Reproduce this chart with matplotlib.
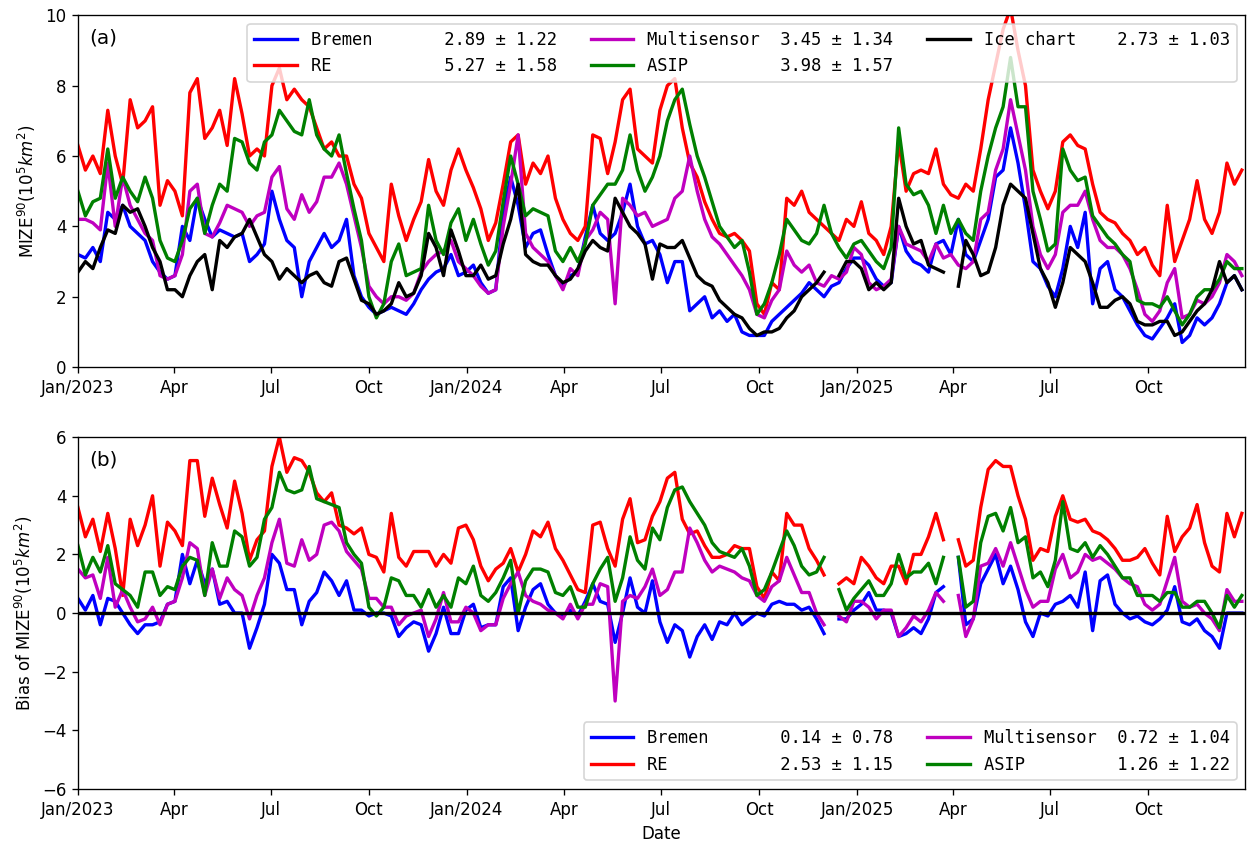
import numpy as np
import pandas as pd
import matplotlib
matplotlib.use("Agg")
import matplotlib.pyplot as plt
import matplotlib.dates as mdates
from matplotlib.ticker import FuncFormatter

# weekly samples (10^5 km^2), starting 2023-01-01
dates = pd.date_range("2023-01-01", periods=157, freq="7D")

bremen = [3.2, 3.1, 3.4, 3.0, 4.4, 4.2, 4.6, 4.0, 3.8, 3.6,
          3.0, 2.7, 2.5, 2.6, 4.0, 3.6, 4.8, 4.2, 3.7, 3.9,
          3.8, 3.7, 3.8, 3.0, 3.2, 3.5, 5.0, 4.2, 3.6, 3.4,
          2.0, 3.0, 3.4, 3.8, 3.4, 3.6, 4.2, 2.6, 2.0, 1.7,
          1.5, 1.6, 1.7, 1.6, 1.5, 1.8, 2.2, 2.5, 2.7, 2.8,
          3.2, 2.6, 2.7, 2.9, 2.4, 2.1, 2.2, 4.4, 5.4, 4.6,
          3.4, 3.8, 3.9, 3.2, 2.6, 2.3, 2.6, 2.7, 3.7, 4.6,
          3.8, 3.6, 3.8, 4.4, 5.2, 4.0, 3.5, 3.6, 3.2, 2.4,
          3.0, 3.0, 1.6, 1.8, 2.0, 1.4, 1.6, 1.3, 1.5, 1.0,
          0.9, 0.9, 0.9, 1.3, 1.5, 1.7, 1.9, 2.1, 2.4, 2.2,
          2.0, 2.3, 2.4, 2.8, 3.1, 3.1, 2.9, 2.5, 2.3, 2.4,
          4.0, 3.3, 3.0, 2.9, 2.7, 3.5, 3.6, 3.2, 4.2, 3.2,
          3.0, 3.6, 4.2, 5.4, 5.6, 6.8, 5.8, 4.5, 3.0, 2.8,
          2.3, 2.0, 2.8, 4.0, 3.4, 4.4, 1.8, 2.8, 3.0, 2.2,
          2.0, 1.6, 1.2, 0.9, 0.8, 1.1, 1.4, 1.8, 0.7, 0.9,
          1.4, 1.2, 1.4, 1.8, 2.4, 2.6, 2.2]

re_model = [6.3, 5.6, 6.0, 5.5, 7.3, 6.0, 5.2, 7.6, 6.8, 7.0,
            7.4, 4.6, 5.3, 5.0, 4.3, 7.8, 8.2, 6.5, 6.8, 7.3,
            6.3, 8.2, 7.2, 6.0, 6.2, 6.0, 8.0, 8.5, 7.6, 7.9,
            7.6, 7.4, 6.8, 6.2, 6.4, 6.0, 6.0, 5.2, 4.8, 3.8,
            3.4, 3.0, 5.2, 4.3, 3.6, 4.2, 4.7, 5.9, 5.0, 4.6,
            5.6, 6.2, 5.6, 5.1, 4.5, 3.6, 4.1, 5.2, 6.4, 6.6,
            5.2, 5.8, 5.5, 6.0, 4.8, 4.2, 3.8, 3.6, 4.0, 6.6,
            6.5, 5.5, 6.4, 7.6, 7.9, 6.2, 6.0, 5.8, 7.3, 8.0,
            8.2, 6.8, 5.8, 5.4, 4.7, 4.2, 3.8, 3.7, 3.8, 3.6,
            3.3, 1.8, 1.5, 2.4, 2.2, 4.8, 4.6, 5.0, 4.4, 4.2,
            4.0, 3.8, 3.6, 4.2, 4.0, 4.7, 3.8, 3.6, 3.2, 4.0,
            6.4, 5.0, 5.5, 5.6, 5.5, 6.2, 5.2, 4.9, 4.8, 5.2,
            5.0, 6.2, 7.6, 8.6, 9.6, 10.2, 9.0, 8.0, 5.6, 5.0,
            4.5, 5.0, 6.4, 6.6, 6.3, 6.2, 5.2, 4.4, 4.2, 4.1,
            3.8, 3.6, 3.2, 3.4, 2.9, 2.6, 4.6, 3.0, 3.6, 4.2,
            5.3, 4.2, 3.8, 4.4, 5.8, 5.2, 5.6]

multisensor = [4.2, 4.2, 4.1, 3.9, 5.8, 4.0, 5.4, 4.6, 4.2, 3.8,
               3.6, 2.6, 2.5, 2.6, 3.2, 5.0, 5.2, 3.8, 3.7, 4.1,
               4.6, 4.5, 4.4, 4.0, 4.3, 4.4, 5.4, 5.7, 4.5, 4.2,
               4.9, 4.4, 4.7, 5.4, 5.4, 5.8, 5.2, 4.3, 3.4, 2.3,
               2.0, 1.8, 2.0, 2.0, 1.9, 2.1, 2.7, 3.0, 3.2, 3.3,
               3.6, 3.0, 2.8, 2.6, 2.3, 2.1, 2.2, 4.0, 5.2, 6.6,
               3.8, 3.4, 3.2, 3.0, 2.6, 2.2, 2.8, 2.6, 3.6, 3.9,
               4.4, 4.2, 1.8, 4.8, 4.6, 4.3, 4.4, 4.0, 4.1, 4.2,
               4.8, 5.0, 6.0, 5.0, 4.2, 3.7, 3.5, 3.2, 2.9, 2.6,
               2.2, 1.5, 1.4, 1.9, 2.2, 3.3, 2.9, 2.7, 2.9, 2.4,
               2.3, 2.6, 2.5, 2.7, 3.4, 3.2, 2.4, 2.2, 2.3, 2.5,
               4.0, 3.5, 3.4, 3.3, 3.0, 3.5, 3.1, 3.2, 2.9, 2.8,
               3.0, 4.2, 4.4, 5.6, 6.2, 7.6, 6.6, 5.6, 4.0, 3.2,
               2.8, 3.2, 4.4, 4.6, 4.6, 5.0, 4.2, 3.6, 3.4, 3.4,
               3.2, 2.8, 2.2, 1.5, 1.3, 1.6, 2.4, 2.8, 1.4, 1.5,
               1.9, 1.8, 2.0, 2.4, 3.2, 3.0, 2.6]

asip = [5.0, 4.3, 4.7, 4.8, 6.2, 4.8, 5.4, 5.0, 4.7, 5.4,
        4.8, 3.6, 3.1, 3.0, 3.6, 4.5, 4.8, 3.8, 4.6, 5.2,
        5.0, 6.5, 6.4, 5.8, 5.6, 6.4, 6.6, 7.3, 7.0, 6.7,
        6.6, 7.6, 6.6, 6.2, 6.0, 6.6, 5.5, 4.5, 3.6, 2.0,
        1.4, 1.8, 3.0, 3.5, 2.6, 2.7, 2.8, 4.6, 3.6, 3.2,
        4.1, 4.5, 3.6, 4.2, 3.5, 2.9, 3.3, 4.7, 6.0, 5.2,
        4.3, 4.5, 4.4, 4.3, 3.3, 3.0, 3.4, 3.0, 3.5, 4.6,
        4.9, 5.2, 5.2, 5.6, 6.6, 5.6, 5.0, 5.4, 6.0, 7.0,
        7.6, 7.9, 6.9, 6.0, 5.4, 4.7, 4.0, 3.7, 3.4, 3.6,
        2.7, 1.5, 1.8, 2.4, 3.2, 4.2, 3.9, 3.6, 3.5, 3.8,
        4.6, 3.8, 3.4, 3.1, 3.5, 3.6, 3.3, 3.0, 2.8, 3.4,
        6.8, 5.2, 4.9, 5.0, 4.6, 3.8, 4.6, 3.8, 4.2, 3.8,
        3.6, 5.0, 6.0, 6.8, 7.4, 8.8, 7.4, 7.4, 5.0, 4.2,
        3.3, 3.5, 6.2, 5.6, 5.3, 5.4, 4.3, 4.0, 3.7, 3.5,
        3.2, 3.0, 1.9, 1.8, 1.8, 1.7, 2.0, 1.6, 1.2, 1.5,
        2.0, 2.2, 2.2, 2.5, 3.0, 2.8, 2.8]

# nan = no ice chart that week
ice_chart = [2.7, 3.0, 2.8, 3.4, 3.9, 3.8, 4.6, 4.4, 4.5, 4.0,
             3.4, 3.0, 2.2, 2.2, 2.0, 2.6, 3.0, 3.2, 2.2, 3.6,
             3.4, 3.7, 3.8, 4.2, 3.7, 3.2, 3.0, 2.5, 2.8, 2.6,
             2.4, 2.6, 2.7, 2.4, 2.3, 3.0, 3.1, 2.5, 1.9, 1.8,
             1.5, 1.6, 1.8, 2.4, 2.0, 2.1, 2.6, 3.8, 3.4, 2.6,
             3.9, 3.3, 2.6, 2.6, 2.9, 2.5, 2.6, 3.5, 4.2, 5.2,
             3.2, 3.0, 2.9, 2.9, 2.6, 2.4, 2.5, 2.8, 3.3, 3.6,
             3.4, 3.3, 4.8, 4.4, 4.0, 3.8, 3.5, 2.5, 3.5, 3.4,
             3.4, 3.6, 3.1, 2.6, 2.4, 2.3, 1.9, 1.7, 1.5, 1.4,
             1.1, 0.9, 1.0, 1.0, 1.1, 1.4, 1.6, 2.0, 2.2, 2.4,
             2.7, np.nan, 2.6, 3.0, 3.0, 2.8, 2.2, 2.4, 2.2, 2.4,
             4.8, 4.0, 3.5, 3.6, 2.9, 2.8, 2.7, np.nan, 2.3, 3.6,
             3.2, 2.6, 2.7, 3.4, 4.6, 5.2, 5.0, 4.8, 3.8, 2.8,
             2.4, 1.7, 2.4, 3.4, 3.2, 3.0, 2.4, 1.7, 1.7, 1.9,
             2.0, 1.8, 1.3, 1.2, 1.2, 1.3, 1.3, 0.9, 1.0, 1.3,
             1.6, 1.8, 2.2, 3.0, 2.4, 2.6, 2.2]

names = ["Bremen", "RE", "Multisensor", "ASIP", "Ice chart"]
colors = ["b", "r", "m", "g", "k"]
stats_a = ["2.89 ± 1.22", "5.27 ± 1.58", "3.45 ± 1.34", "3.98 ± 1.57", "2.73 ± 1.03"]
stats_b = ["0.14 ± 0.78", "2.53 ± 1.15", "0.72 ± 1.04", "1.26 ± 1.22"]

series = [bremen, re_model, multisensor, asip, ice_chart]
ice = np.array(ice_chart)

fig, (ax1, ax2) = plt.subplots(2, 1, figsize=(1257 / 120, 849 / 120), dpi=120)
fig.subplots_adjust(left=0.062, right=0.9905, top=0.982, bottom=0.0707, hspace=0.199)

# (a) MIZE time series
for name, col, st, s in zip(names, colors, stats_a, series):
    ax1.plot(dates, s, color=col, lw=2, label=f"{name:<13s}{st}")

# (b) bias against the ice chart
for name, col, st, s in zip(names[:4], colors[:4], stats_b, series[:4]):
    ax2.plot(dates, np.array(s) - ice, color=col, lw=2, label=f"{name:<13s}{st}")
ax2.axhline(0, color="k", lw=2)

def month_fmt(x, pos):
    d = mdates.num2date(x)
    return d.strftime("%b/%Y") if d.month == 1 else d.strftime("%b")

for ax in (ax1, ax2):
    ax.set_xlim(pd.Timestamp("2023-01-01"), pd.Timestamp("2025-12-31"))
    ax.xaxis.set_major_locator(mdates.MonthLocator(bymonth=[1, 4, 7, 10]))
    ax.xaxis.set_major_formatter(FuncFormatter(month_fmt))

legend_font = {"family": "DejaVu Sans Mono", "size": 10.25}

ax1.set_ylim(0, 10)
ax1.set_yticks(range(0, 11, 2))
ax1.set_ylabel(r"MIZE$^{90}(10^5km^2)$")
ax1.text(0.01, 0.935, "(a)", transform=ax1.transAxes, fontsize=12, va="center")
ax1.legend(loc="upper right", ncol=3, handlelength=2.5, prop=legend_font)

ax2.set_ylim(-6, 6)
ax2.set_yticks(range(-6, 7, 2))
ax2.set_ylabel(r"Bias of MIZE$^{90}(10^5km^2)$")
ax2.set_xlabel("Date")
ax2.text(0.01, 0.935, "(b)", transform=ax2.transAxes, fontsize=12, va="center")
ax2.legend(loc="lower right", ncol=2, handlelength=2.5, prop=legend_font)

fig.savefig("out.png", dpi=120)
